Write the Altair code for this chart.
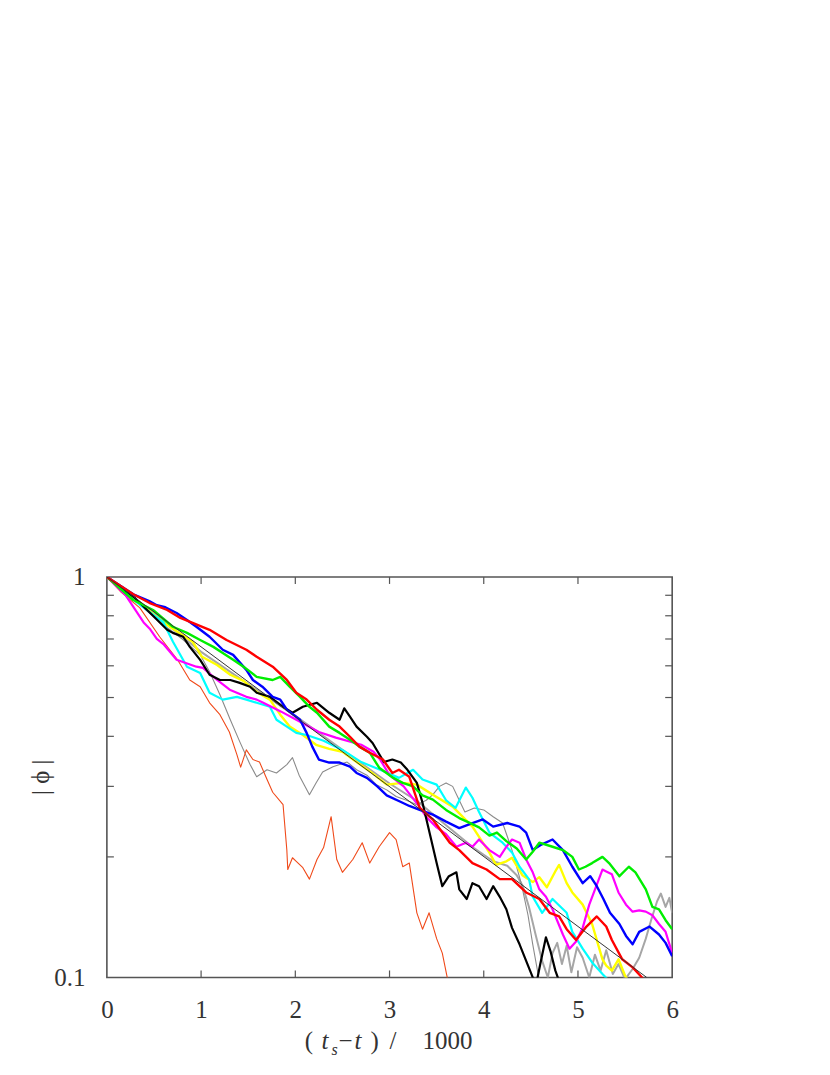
import altair as alt
import pandas as pd

# ---------------- data ----------------
red_x = [0, 0.28, 0.45, 0.64, 0.78, 0.91, 1.09, 1.27, 1.48, 1.59, 1.76, 1.91, 2.01, 2.12, 2.23, 2.36,
         2.47, 2.58, 2.68, 2.79, 2.93, 3.03, 3.10, 3.21, 3.32, 3.46, 3.64, 3.74, 3.88, 4.03, 4.17, 4.30,
         4.45, 4.59, 4.70, 4.80, 4.88, 4.98, 5.09, 5.20, 5.30, 5.36, 5.47, 5.58, 5.68, 5.75]
red_y = [1.0, 0.905, 0.862, 0.827, 0.79, 0.768, 0.738, 0.696, 0.658, 0.632, 0.597, 0.553, 0.514, 0.494,
         0.466, 0.44, 0.423, 0.399, 0.377, 0.364, 0.35, 0.324, 0.33, 0.317, 0.265, 0.248, 0.217, 0.208,
         0.193, 0.186, 0.176, 0.176, 0.163, 0.157, 0.145, 0.142, 0.132, 0.124, 0.134, 0.142, 0.134, 0.124,
         0.111, 0.106, 0.1, 0.095]

blue_x = [0, 0.28, 0.45, 0.53, 0.62, 0.74, 0.85, 0.95, 1.09, 1.23, 1.34, 1.48, 1.55, 1.65, 1.76, 1.84,
          1.91, 2.05, 2.12, 2.18, 2.25, 2.36, 2.47, 2.58, 2.65, 2.76, 2.87, 2.97, 3.11, 3.21, 3.32, 3.46,
          3.60, 3.74, 3.88, 3.99, 4.10, 4.25, 4.38, 4.45, 4.52, 4.60, 4.73, 4.84, 4.94, 5.05, 5.13, 5.20,
          5.27, 5.34, 5.44, 5.51, 5.58, 5.65, 5.76, 5.86, 5.93, 6.0]
blue_y = [1.0, 0.905, 0.87, 0.85, 0.84, 0.813, 0.781, 0.751, 0.709, 0.658, 0.639, 0.586, 0.553, 0.532,
          0.502, 0.494, 0.466, 0.44, 0.408, 0.377, 0.35, 0.344, 0.344, 0.336, 0.324, 0.315, 0.30, 0.285,
          0.275, 0.268, 0.262, 0.255, 0.245, 0.236, 0.243, 0.248, 0.238, 0.243, 0.238, 0.23, 0.208, 0.214,
          0.221, 0.208, 0.189, 0.172, 0.179, 0.169, 0.157, 0.145, 0.136, 0.127, 0.121, 0.13, 0.134, 0.128,
          0.122, 0.113]

green_x = [0, 0.28, 0.49, 0.70, 0.85, 0.99, 1.13, 1.23, 1.34, 1.45, 1.59, 1.76, 1.84, 1.94, 2.05, 2.15,
           2.23, 2.36, 2.47, 2.58, 2.68, 2.79, 2.89, 3.03, 3.14, 3.25, 3.35, 3.46, 3.60, 3.74, 3.84, 3.95,
           4.06, 4.14, 4.24, 4.35, 4.45, 4.52, 4.59, 4.73, 4.84, 4.94, 5.01, 5.08, 5.15, 5.26, 5.33, 5.44,
           5.54, 5.61, 5.72, 5.79, 5.86, 5.93, 6.0]
green_y = [1.0, 0.876, 0.827, 0.751, 0.725, 0.696, 0.669, 0.646, 0.621, 0.597, 0.563, 0.553, 0.563,
           0.532, 0.502, 0.474, 0.458, 0.423, 0.408, 0.392, 0.377, 0.364, 0.334, 0.316, 0.306, 0.30, 0.285,
           0.278, 0.262, 0.25, 0.244, 0.237, 0.226, 0.23, 0.219, 0.21, 0.197, 0.206, 0.217, 0.212, 0.208,
           0.2, 0.186, 0.189, 0.193, 0.2, 0.193, 0.179, 0.189, 0.183, 0.166, 0.15, 0.148, 0.139, 0.132]

black_x = [0, 0.30, 0.64, 0.70, 0.81, 0.88, 0.99, 1.09, 1.20, 1.31, 1.41, 1.52, 1.59, 1.73, 1.87, 1.97,
           2.08, 2.23, 2.36, 2.47, 2.52, 2.58, 2.65, 2.76, 2.82, 2.94, 3.03, 3.12, 3.19, 3.29, 3.35, 3.43,
           3.50, 3.56, 3.63, 3.71, 3.74, 3.82, 3.88, 3.95, 4.03, 4.10, 4.17, 4.24, 4.30, 4.38, 4.45, 4.52,
           4.56, 4.60, 4.66, 4.71, 4.76, 4.82]
black_y = [1.0, 0.885, 0.738, 0.725, 0.709, 0.669, 0.621, 0.570, 0.553, 0.553, 0.544, 0.532, 0.514,
           0.502, 0.474, 0.458, 0.474, 0.485, 0.458, 0.44, 0.47, 0.448, 0.423, 0.399, 0.385, 0.345, 0.35,
           0.344, 0.33, 0.306, 0.273, 0.227, 0.193, 0.169, 0.179, 0.183, 0.166, 0.157, 0.172, 0.169, 0.157,
           0.169, 0.159, 0.148, 0.133, 0.121, 0.11, 0.1, 0.097, 0.108, 0.126, 0.116, 0.104, 0.095]

gray_x = [0, 0.3, 0.6, 0.8, 0.99, 1.09, 1.20, 1.31, 1.41, 1.52, 1.59, 1.70, 1.80, 1.91, 1.97, 2.04,
          2.15, 2.22, 2.29, 2.40, 2.55, 2.65, 2.76, 2.86, 2.97, 3.07, 3.18, 3.29, 3.39, 3.46, 3.53, 3.60,
          3.67, 3.74, 3.80, 3.90, 4.00, 4.10, 4.20, 4.30, 4.40, 4.47, 4.52, 4.58, 4.62]
gray_y = [1.0, 0.87, 0.76, 0.70, 0.639, 0.58, 0.508, 0.44, 0.388, 0.34, 0.317, 0.33, 0.324, 0.34,
          0.354, 0.32, 0.286, 0.306, 0.326, 0.336, 0.345, 0.33, 0.32, 0.303, 0.294, 0.283, 0.277, 0.27,
          0.277, 0.286, 0.3, 0.306, 0.3, 0.277, 0.259, 0.265, 0.262, 0.252, 0.243, 0.208, 0.171, 0.143,
          0.121, 0.101, 0.095]

orange_x = [0, 0.15, 0.35, 0.56, 0.75, 0.88, 0.99, 1.09, 1.20, 1.30, 1.38, 1.42, 1.48, 1.55, 1.62,
            1.70, 1.76, 1.87, 1.91, 1.92, 1.97, 2.01, 2.08, 2.15, 2.23, 2.30, 2.38, 2.44, 2.50, 2.61,
            2.71, 2.79, 2.89, 3.00, 3.07, 3.14, 3.21, 3.29, 3.35, 3.42, 3.50, 3.56, 3.62]
orange_y = [1.0, 0.917, 0.837, 0.709, 0.621, 0.553, 0.532, 0.485, 0.453, 0.41, 0.36, 0.335, 0.37,
            0.35, 0.345, 0.312, 0.29, 0.27, 0.208, 0.186, 0.199, 0.195, 0.188, 0.176, 0.197, 0.211,
            0.252, 0.197, 0.183, 0.197, 0.217, 0.193, 0.212, 0.23, 0.221, 0.189, 0.193, 0.145, 0.132,
            0.145, 0.125, 0.115, 0.098]

cyan_x = [0, 0.3, 0.6, 0.7, 0.85, 0.99, 1.09, 1.23, 1.38, 1.48, 1.59, 1.73, 1.80, 1.91, 2.01, 2.12,
          2.30, 2.50, 2.70, 2.90, 3.10, 3.25, 3.35, 3.50, 3.60, 3.70, 3.81, 3.88, 3.95, 4.06, 4.20, 4.30,
          4.38, 4.48, 4.52, 4.62, 4.73, 4.88, 4.94, 5.05, 5.15, 5.26, 5.35]
cyan_y = [1.0, 0.87, 0.77, 0.69, 0.597, 0.576, 0.514, 0.494, 0.502, 0.494, 0.485, 0.474, 0.44, 0.423,
          0.408, 0.403, 0.39, 0.37, 0.345, 0.33, 0.315, 0.33, 0.312, 0.303, 0.277, 0.265, 0.298, 0.281,
          0.259, 0.23, 0.217, 0.205, 0.189, 0.176, 0.159, 0.145, 0.157, 0.145, 0.13, 0.118, 0.109, 0.102,
          0.097]

yellow_x = [0, 0.3, 0.6, 0.91, 1.01, 1.17, 1.31, 1.45, 1.59, 1.73, 1.84, 1.94, 2.08, 2.22, 2.36, 2.50,
            2.65, 2.80, 2.97, 3.14, 3.29, 3.46, 3.67, 3.88, 3.99, 4.06, 4.13, 4.24, 4.30, 4.41, 4.52,
            4.59, 4.67, 4.77, 4.80, 4.88, 4.94, 5.05, 5.15, 5.26, 5.30, 5.36, 5.43, 5.50, 5.55]
yellow_y = [1.0, 0.88, 0.77, 0.689, 0.632, 0.603, 0.57, 0.55, 0.516, 0.494, 0.453, 0.423, 0.403, 0.381,
            0.372, 0.366, 0.345, 0.326, 0.303, 0.306, 0.303, 0.286, 0.267, 0.238, 0.217, 0.205, 0.191,
            0.195, 0.199, 0.18, 0.173, 0.178, 0.168, 0.186, 0.191, 0.172, 0.163, 0.152, 0.136, 0.111,
            0.107, 0.104, 0.111, 0.101, 0.097]

magenta_x = [0, 0.2, 0.39, 0.46, 0.53, 0.60, 0.74, 0.95, 1.02, 1.17, 1.31, 1.48, 1.59, 1.66, 1.85,
             2.05, 2.25, 2.43, 2.70, 2.83, 2.90, 3.00, 3.15, 3.30, 3.40, 3.50, 3.60, 3.71, 3.81, 3.88,
             3.95, 4.06, 4.17, 4.24, 4.30, 4.38, 4.45, 4.52, 4.59, 4.66, 4.73, 4.84, 4.91, 4.98, 5.05,
             5.12, 5.19, 5.26, 5.30, 5.36, 5.43, 5.51, 5.58, 5.65, 5.72, 5.79, 5.86, 5.93, 6.0]
magenta_y = [1.0, 0.9, 0.77, 0.74, 0.70, 0.68, 0.621, 0.597, 0.593, 0.553, 0.522, 0.502, 0.494, 0.485,
             0.461, 0.435, 0.41, 0.397, 0.381, 0.366, 0.35, 0.32, 0.30, 0.27, 0.25, 0.237, 0.228, 0.212,
             0.217, 0.212, 0.221, 0.208, 0.2, 0.212, 0.221, 0.217, 0.197, 0.183, 0.166, 0.159, 0.148,
             0.128, 0.118, 0.123, 0.133, 0.152, 0.168, 0.186, 0.184, 0.181, 0.163, 0.152, 0.146, 0.147,
             0.146, 0.143, 0.136, 0.13, 0.115]

silver_x = [0, 0.5, 1.0, 1.5, 2.0, 2.5, 3.0, 3.3, 3.6, 3.9, 4.1, 4.25, 4.35, 4.41, 4.48, 4.55, 4.62,
            4.68, 4.73, 4.78, 4.83, 4.88, 4.93, 4.99, 5.05, 5.12, 5.18, 5.24, 5.30, 5.37, 5.43, 5.50,
            5.58, 5.65, 5.72, 5.78, 5.84, 5.88, 5.93, 5.97, 6.0]
silver_y = [1.0, 0.81, 0.65, 0.54, 0.45, 0.37, 0.305, 0.275, 0.24, 0.21, 0.195, 0.19, 0.18, 0.17, 0.15,
            0.128, 0.11, 0.10, 0.115, 0.122, 0.108, 0.12, 0.103, 0.119, 0.112, 0.10, 0.114, 0.104, 0.117,
            0.102, 0.108, 0.099, 0.105, 0.112, 0.125, 0.14, 0.155, 0.162, 0.15, 0.158, 0.145]

ref_x = [0, 5.73]
ref_y = [1.0, 0.1]

x_ticks = [0, 1, 2, 3, 4, 5, 6]
y_labels = [0.1, 1]
y_minor = [0.2, 0.3, 0.4, 0.5, 0.6, 0.7, 0.8, 0.9]
x_inner_ticks = [1, 2, 3, 4, 5]

# ---------------- chart ----------------
W, H = 566, 401
FONT = "Liberation Serif, Times New Roman, DejaVu Serif, serif"
AX = "#555555"
TXT = "#333333"

xscale = alt.Scale(domain=[0, 6], nice=False, zero=False)
yscale = alt.Scale(type="log", domain=[0.1, 1], nice=False)

x_axis = alt.Axis(values=x_ticks, format="d", labelFlush=False, ticks=False,
                  domain=False, grid=False, labelPadding=20, labelFont=FONT, labelFontSize=25,
                  labelColor=TXT, title=None)
y_axis = alt.Axis(values=y_labels, format="~g", ticks=False, domain=False, grid=False,
                  labelPadding=22, labelFont=FONT, labelFontSize=25, labelColor=TXT, title=None)

X = lambda f: alt.X(f, scale=xscale, axis=x_axis)
Y = lambda f: alt.Y(f, scale=yscale, axis=y_axis)


def series(xs, ys, color, width):
    df = pd.DataFrame({"x": xs, "y": ys})
    return alt.Chart(df).mark_line(color=color, strokeWidth=width, clip=True,
                                   strokeJoin="round").encode(x=X("x:Q"), y=Y("y:Q"))


layers = [
    series(silver_x, silver_y, "#a6a6a6", 2.0),
    series(gray_x, gray_y, "#8a8a8a", 1.1),
    series(orange_x, orange_y, "#f04a1a", 1.1),
    series(yellow_x, yellow_y, "#ffff00", 2.4),
    series(cyan_x, cyan_y, "#00ffff", 2.2),
    series(magenta_x, magenta_y, "#ff00ff", 2.2),
    series(black_x, black_y, "#000000", 2.2),
    series(blue_x, blue_y, "#0000ff", 2.4),
    series(green_x, green_y, "#00ee00", 2.4),
    series(red_x, red_y, "#ff0000", 2.4),
    series(ref_x, ref_y, "#333333", 1.0),
]

# inward ticks on all four sides
xt = pd.DataFrame({"x": x_inner_ticks})
yt = pd.DataFrame({"y": y_minor})
tick_style = dict(color=AX, strokeWidth=1.2)
layers += [
    alt.Chart(xt).mark_rule(**tick_style).encode(x=X("x:Q"), y=alt.value(H), y2=alt.value(H - 7)),
    alt.Chart(xt).mark_rule(**tick_style).encode(x=X("x:Q"), y=alt.value(0), y2=alt.value(7)),
    alt.Chart(yt).mark_rule(**tick_style).encode(y=Y("y:Q"), x=alt.value(0), x2=alt.value(7)),
    alt.Chart(yt).mark_rule(**tick_style).encode(y=Y("y:Q"), x=alt.value(W), x2=alt.value(W - 7)),
]

one = pd.DataFrame({"k": [0]})

# y-axis title |phi|, rotated
layers.append(
    alt.Chart(one).mark_text(text="| ϕ |", align="center", baseline="middle", angle=270,
                             font=FONT, fontSize=25, color=TXT).encode(
        x=alt.value(-66), y=alt.value(H / 2))
)

# x-axis title: ( t_s - t ) / 1000
title_parts = [
    ("(", 198, 473, 25, "normal"),
    ("t", 215, 473, 25, "italic"),
    ("s", 225, 479, 16, "italic"),
    ("−", 232, 473, 25, "normal"),
    ("t", 248, 473, 25, "italic"),
    (")", 264, 473, 25, "normal"),
    ("/", 283, 473, 25, "normal"),
    ("1000", 316, 473, 25, "normal"),
]
for txt, px, py, fs, style in title_parts:
    layers.append(
        alt.Chart(one).mark_text(text=txt, align="left", baseline="alphabetic", font=FONT,
                                 fontSize=fs, fontStyle=style, color=TXT).encode(
            x=alt.value(px), y=alt.value(py))
    )

chart = alt.layer(*layers).properties(
    width=W, height=H,
    autosize=alt.AutoSizeParams(type="none"),
    padding={"left": 99, "top": 569, "right": 150, "bottom": 90},
).configure_view(stroke=AX, strokeWidth=1.6)

chart.save("out.html", embed_options={"renderer": "svg", "actions": False})
